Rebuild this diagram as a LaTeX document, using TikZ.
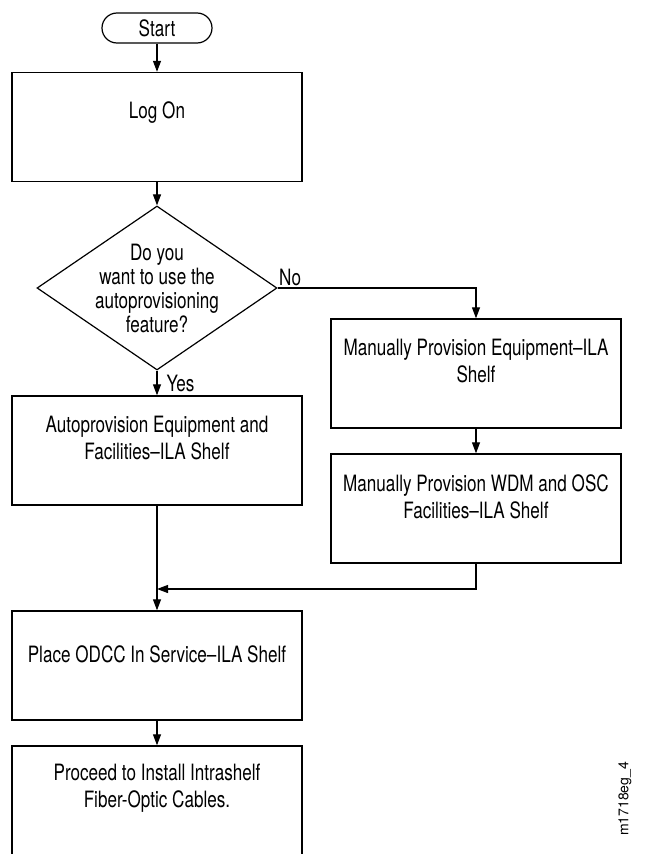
\documentclass[tikz,border=0pt]{standalone}
\usepackage{fontspec}
\setmainfont{TeX Gyre Heros}[FakeStretch=0.76]
\newfontfamily\tagfont{TeX Gyre Heros}
\usepackage{tikz}
\usetikzlibrary{%
  positioning
 ,arrows.meta
 ,shapes.geometric
}
\tikzstyle{flow}=[x=1pt,y=1pt,line width=1.2pt,>={Triangle[length=11pt,width=8pt]}]
\tikzstyle{term}=[draw,rectangle,rounded corners=15pt,minimum width=110pt,minimum height=30pt,inner sep=0pt]
\tikzstyle{stepbox}=[draw,rectangle,minimum width=290pt,minimum height=109pt,inner sep=0pt,line width=1.4pt]
\tikzstyle{query}=[draw,diamond,minimum width=240pt,minimum height=164pt,inner sep=0pt]
\tikzstyle{txt}=[align=center,inner sep=0pt,font=\fontsize{22.5}{27}\selectfont]
\tikzstyle{ans}=[inner sep=1pt,font=\fontsize{22.5}{24}\selectfont]

\begin{document}
\begin{tikzpicture}[flow]
  \useasboundingbox (0,0) rectangle (652,-854);
  \node[term,txt]  (start)   at (157,-28)    {Start};
  \node[stepbox]   (logon)   at (157,-127)   {};
  \node[query]     (ask)     at (157,-288)   {};
  \node[stepbox]   (auto)    at (157,-450.5) {};
  \node[stepbox]   (man1)    at (476,-373.5) {};
  \node[stepbox]   (man2)    at (476,-508.5) {};
  \node[stepbox]   (place)   at (157,-665.5) {};
  \node[stepbox]   (proceed) at (157,-800.5) {};
  \coordinate      (join)    at (157,-589);
% texts in the boxes
  \node[txt] (logontxt)   at ([yshift=-41pt]logon.north)   {Log On};
  \node[txt,font=\fontsize{22.5}{24}\selectfont] (asktxt) at (ask)
    {Do you\\want to use the\\autoprovisioning\\feature?};
  \node[txt] (autotxt)    at ([yshift=-43pt]auto.north)    {Autoprovision Equipment and\\Facilities--ILA Shelf};
  \node[txt] (man1txt)    at ([yshift=-43pt]man1.north)    {Manually Provision Equipment--ILA\\Shelf};
  \node[txt] (man2txt)    at ([yshift=-43pt]man2.north)    {Manually Provision WDM and OSC\\Facilities--ILA Shelf};
  \node[txt] (placetxt)   at ([yshift=-44pt]place.north)   {Place ODCC In Service--ILA Shelf};
  \node[txt] (proceedtxt) at ([yshift=-43pt]proceed.north) {Proceed to Install Intrashelf\\Fiber-Optic Cables.};
% 
  \draw[->] (start) -- (logon);
  \draw[->] (logon) -- (ask);
  \draw[->] (ask) -- node[ans,pos=0,anchor=north west,xshift=8pt,yshift=-3pt] (yes) {Yes} (auto);
  \draw[->] (ask.east) -| node[ans,pos=0,anchor=south west,yshift=1pt] (no) {No} (man1.north);
  \draw[->] (man1) -- (man2);
  \draw[->] (auto) -- (place);
  \draw[->] (man2.south) |- (join);
  \draw[->] (place) -- (proceed);
%
  \node[rotate=90,inner sep=0pt,font=\tagfont\fontsize{14}{16}\selectfont] (tag) at (625,-799) {m1718eg\_4};
\end{tikzpicture}
\end{document}
